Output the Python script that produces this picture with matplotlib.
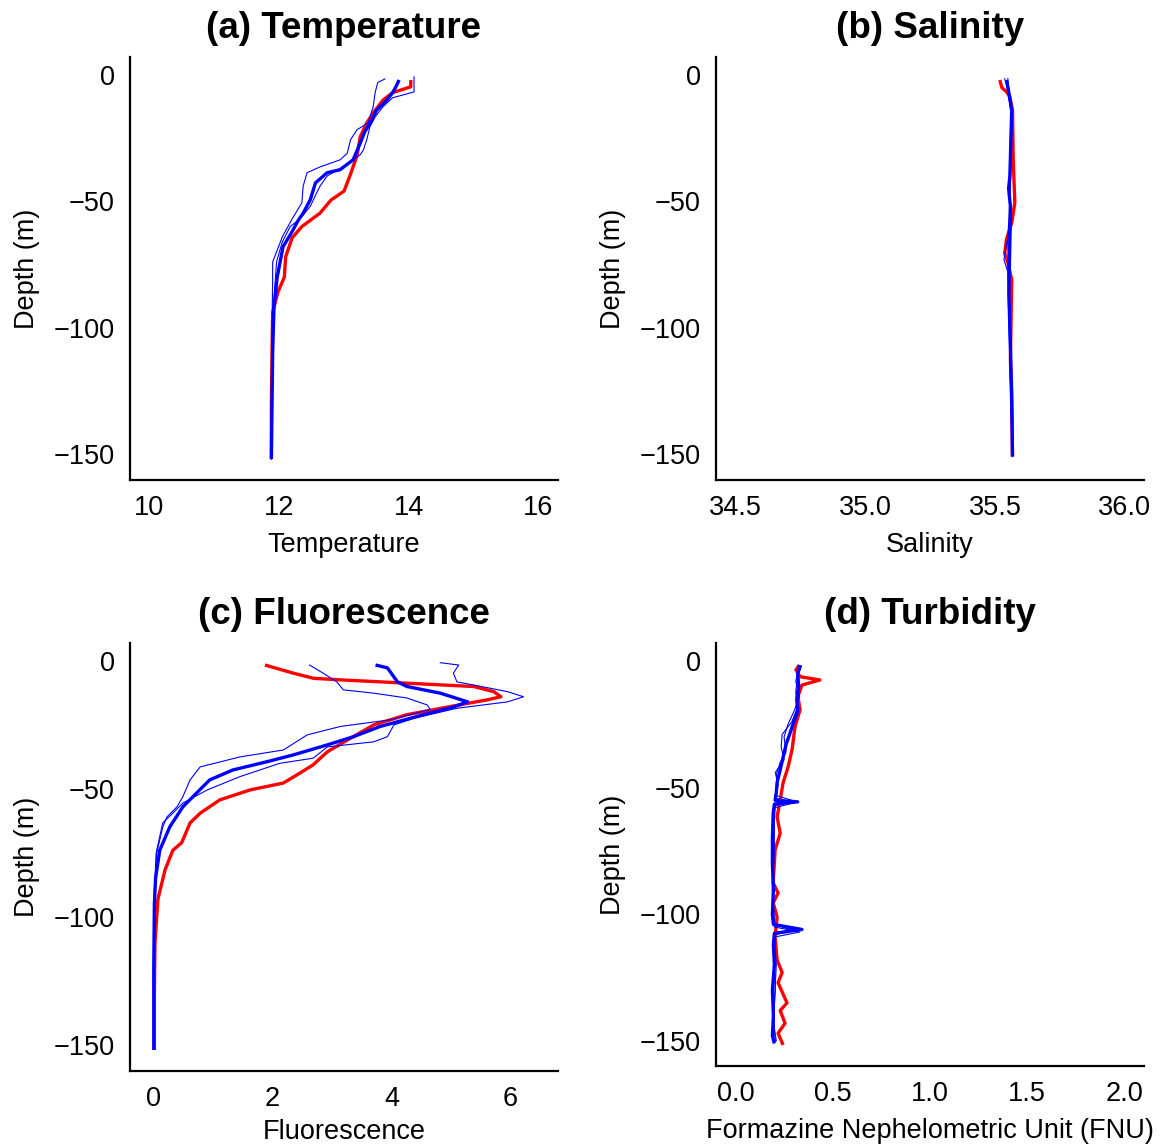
import matplotlib
matplotlib.use("Agg")
import matplotlib.pyplot as plt

plt.rcParams['font.family'] = ['Liberation Sans', 'DejaVu Sans']

# ---------------- Temperature ----------------
temp_red_depth = [-2, -4.7, -7, -10, -14, -19, -24.5, -32, -40, -46, -49.5, -54.7, -60, -64.5, -72, -80, -86, -94, -110, -130, -152]
temp_red = [14.03, 14.03, 13.75, 13.6, 13.48, 13.35, 13.25, 13.2, 13.09, 13.0, 12.8, 12.63, 12.35, 12.2, 12.1, 12.08, 11.98, 11.9, 11.89, 11.88, 11.88]
temp_blue_depth = [-2, -4.7, -7, -10, -14, -18, -22.5, -27, -33.6, -37.5, -38.7, -42.7, -49.4, -54.7, -57.3, -62, -68, -80, -92, -110, -130, -152]
temp_blue = [13.85, 13.8, 13.75, 13.66, 13.5, 13.43, 13.32, 13.25, 13.14, 12.94, 12.74, 12.56, 12.48, 12.37, 12.3, 12.2, 12.06, 11.97, 11.92, 11.9, 11.89, 11.88]
temp_thin1_depth = [-1.6, -3, -7, -12.6, -19, -21.7, -25.7, -31, -33.6, -36.4, -38.7, -44, -50.6, -57, -64, -74, -80, -100, -130, -152]
temp_thin1 = [13.63, 13.52, 13.48, 13.45, 13.37, 13.2, 13.1, 13.05, 12.94, 12.63, 12.43, 12.37, 12.35, 12.2, 12.05, 11.9, 11.9, 11.89, 11.88, 11.88]
temp_thin2_depth = [-0.8, -6.7, -8, -9, -12.6, -16.6, -20.5, -25.7, -29.6, -31.6, -36.4, -40, -44, -46.6, -52, -57, -60, -66, -74, -85, -100, -130, -152]
temp_thin2 = [14.08, 14.08, 13.9, 13.75, 13.6, 13.48, 13.4, 13.35, 13.3, 13.25, 12.98, 12.74, 12.63, 12.58, 12.48, 12.32, 12.17, 12.05, 11.96, 11.93, 11.9, 11.89, 11.88]

# ---------------- Salinity ----------------
sal_red_depth = [-2, -5, -6.7, -8.7, -13.8, -33.6, -45, -50.6, -54, -58.5, -65, -70.5, -74.3, -81, -112.6, -130, -151]
sal_red = [35.519, 35.527, 35.545, 35.558, 35.568, 35.571, 35.575, 35.577, 35.572, 35.565, 35.545, 35.538, 35.55, 35.565, 35.56, 35.565, 35.568]
sal_blue_depth = [-2, -7, -14, -40, -45, -52, -57, -65, -86, -126, -151]
sal_blue = [35.545, 35.554, 35.565, 35.558, 35.553, 35.56, 35.56, 35.558, 35.554, 35.565, 35.568]
sal_thin1_depth = [-1.5, -6, -15, -40, -60, -70, -73, -78, -100, -151]
sal_thin1 = [35.538, 35.55, 35.562, 35.556, 35.558, 35.54, 35.535, 35.55, 35.556, 35.567]
sal_thin2_depth = [-1.5, -8, -15, -45, -65, -90, -120, -151]
sal_thin2 = [35.55, 35.556, 35.566, 35.56, 35.55, 35.552, 35.56, 35.568]

# ---------------- Fluorescence ----------------
fl_red_depth = [-1.6, -4.8, -6.8, -7.4, -8.7, -10, -12, -14, -15.2, -18.5, -21, -25, -31, -35.5, -40.6, -43.8, -47.7, -50.4, -54.3, -59.5, -63.3, -71, -74, -81.6, -93, -110, -130, -152]
fl_red = [1.87, 2.35, 2.69, 3.14, 4.26, 5.38, 5.72, 5.84, 5.61, 4.83, 4.26, 3.7, 3.25, 2.92, 2.68, 2.46, 2.18, 1.62, 1.11, 0.78, 0.61, 0.47, 0.32, 0.19, 0.07, 0.02, 0.01, 0.01]
fl_blue_depth = [-1.6, -2.7, -8.2, -10, -12.6, -16, -18, -21, -25.6, -29.6, -32.8, -36.7, -39.4, -42.6, -46.5, -51.6, -57, -64.8, -74, -85, -95, -120, -152]
fl_blue = [3.73, 3.93, 4.1, 4.26, 4.82, 5.28, 5.04, 4.54, 3.81, 3.36, 2.92, 2.35, 1.9, 1.33, 0.94, 0.72, 0.49, 0.27, 0.1, 0.03, 0.01, 0.0, 0.0]
fl_thin1_depth = [-1.6, -4.8, -8.2, -11.3, -12.6, -14.5, -17.2, -19, -23, -25.6, -28.9, -34.8, -37.5, -41.4, -46.5, -53, -57, -61, -65, -75, -90, -120, -150]
fl_thin1 = [2.62, 2.85, 3.08, 3.19, 3.7, 4.26, 4.6, 4.65, 3.98, 3.14, 2.58, 2.18, 1.45, 0.78, 0.61, 0.49, 0.39, 0.22, 0.15, 0.05, 0.01, 0.0, 0.0]
fl_thin2_depth = [-0.7, -1.6, -4.8, -8.2, -9.4, -12, -14, -16, -18.5, -22.4, -25, -29.6, -31.6, -33.6, -38, -40, -45.2, -50.4, -55.5, -59.5, -63.3, -75, -90, -120, -150]
fl_thin2 = [4.82, 5.13, 5.04, 5.1, 5.38, 5.95, 6.22, 5.95, 5.1, 4.38, 4.04, 3.93, 3.7, 2.92, 2.68, 2.12, 1.45, 0.9, 0.49, 0.32, 0.15, 0.04, 0.01, 0.0, 0.0]

# ---------------- Turbidity ----------------
tu_red_depth = [-1.6, -3.5, -6.2, -7.5, -9.5, -14, -19.3, -26, -35, -42, -48, -55, -61.5, -68, -74.6, -87.6, -91.6, -95.5, -101, -109, -118, -123, -127, -135, -138, -143, -147, -151.6]
tu_red = [0.327, 0.311, 0.332, 0.434, 0.342, 0.321, 0.332, 0.306, 0.291, 0.27, 0.245, 0.23, 0.214, 0.23, 0.204, 0.194, 0.219, 0.194, 0.214, 0.204, 0.214, 0.24, 0.219, 0.265, 0.23, 0.255, 0.219, 0.245]
tu_blue_depth = [-1.6, -5, -10, -15, -20, -24, -28.6, -33, -38, -43, -48, -52, -55, -55.6, -56.5, -60, -70, -80, -90, -100, -104, -106, -107.5, -112, -120, -130, -140, -148, -151]
tu_blue = [0.332, 0.32, 0.325, 0.315, 0.32, 0.3, 0.28, 0.26, 0.245, 0.23, 0.214, 0.21, 0.204, 0.32, 0.2, 0.194, 0.19, 0.19, 0.195, 0.19, 0.195, 0.342, 0.2, 0.195, 0.2, 0.19, 0.195, 0.19, 0.2]
tu_thin1_depth = [-2, -8, -14, -20, -25, -30, -36, -40, -45, -50, -54, -56, -58, -65, -80, -95, -105, -107, -109, -120, -135, -145, -150]
tu_thin1 = [0.33, 0.31, 0.33, 0.30, 0.27, 0.25, 0.26, 0.23, 0.21, 0.215, 0.2, 0.3, 0.2, 0.195, 0.19, 0.195, 0.2, 0.33, 0.2, 0.21, 0.2, 0.2, 0.21]
tu_thin2_depth = [-2, -6, -12, -18, -24, -29, -34, -39, -44, -49, -53, -55.5, -57, -63, -75, -90, -104, -106.5, -108, -118, -130, -142, -150]
tu_thin2 = [0.34, 0.32, 0.31, 0.32, 0.29, 0.24, 0.235, 0.25, 0.205, 0.22, 0.205, 0.31, 0.205, 0.2, 0.2, 0.19, 0.2, 0.3, 0.205, 0.2, 0.205, 0.195, 0.205]

titles = ['(a) Temperature', '(b) Salinity', '(c) Fluorescence', '(d) Turbidity']
xlabels = ['Temperature', 'Salinity', 'Fluorescence', 'Formazine Nephelometric Unit (FNU)']
xticks_list = [[10, 12, 14, 16], [34.5, 35.0, 35.5, 36.0], [0, 2, 4, 6], [0.0, 0.5, 1.0, 1.5, 2.0]]
xtick_labels = [['10', '12', '14', '16'], ['34.5', '35.0', '35.5', '36.0'], ['0', '2', '4', '6'], ['0.0', '0.5', '1.0', '1.5', '2.0']]
yticks = [0, -50, -100, -150]
ytick_labels = ['0', '\u221250', '\u2212100', '\u2212150']

W, H = 1168, 1146
fig = plt.figure(figsize=(W / 100, H / 100), dpi=100)

def box(l, t, r, b):
    return [l / W, 1 - b / H, (r - l) / W, (b - t) / H]

axes_px = [(130, 57, 558, 480), (716, 57, 1144, 480), (130, 643, 558, 1071), (716, 643, 1144, 1066)]
xlims = [(9.7, 16.3), (34.425, 36.075), (-0.4, 6.8), (-0.1, 2.1)]
ylims = [(-160.3, 7.1), (-160.3, 7.1), (-160.2, 7.0), (-159.9, 7.1)]
xlabel_pads = [8, 8, 5, 8]

profiles = [
    (temp_red_depth, temp_red, temp_blue_depth, temp_blue, [(temp_thin1_depth, temp_thin1), (temp_thin2_depth, temp_thin2)]),
    (sal_red_depth, sal_red, sal_blue_depth, sal_blue, [(sal_thin1_depth, sal_thin1), (sal_thin2_depth, sal_thin2)]),
    (fl_red_depth, fl_red, fl_blue_depth, fl_blue, [(fl_thin1_depth, fl_thin1), (fl_thin2_depth, fl_thin2)]),
    (tu_red_depth, tu_red, tu_blue_depth, tu_blue, [(tu_thin1_depth, tu_thin1), (tu_thin2_depth, tu_thin2)]),
]

for i in range(4):
    ax = fig.add_axes(box(*axes_px[i]))
    rd, rv, bd, bv, thins = profiles[i]
    ax.plot(rv, rd, color='#FF0000', lw=2.4, solid_capstyle='butt', solid_joinstyle='round', zorder=2)
    for td, tv in thins:
        ax.plot(tv, td, color='#0000FF', lw=0.8, solid_joinstyle='round', zorder=3)
    ax.plot(bv, bd, color='#0000FF', lw=2.4, solid_capstyle='butt', solid_joinstyle='round', zorder=4)
    ax.set_xlim(*xlims[i])
    ax.set_ylim(*ylims[i])
    ax.set_xticks(xticks_list[i])
    ax.set_xticklabels(xtick_labels[i])
    ax.set_yticks(yticks)
    ax.set_yticklabels(ytick_labels)
    for s in ['top', 'right']:
        ax.spines[s].set_visible(False)
    for s in ['left', 'bottom']:
        ax.spines[s].set_linewidth(1.6)
        ax.spines[s].set_color('black')
    ax.tick_params(axis='both', length=0, labelsize=19.5, colors='black')
    ax.tick_params(axis='x', pad=10.5)
    ax.tick_params(axis='y', pad=11)
    ax.set_xlabel(xlabels[i], fontsize=19.5, labelpad=xlabel_pads[i])
    ax.set_ylabel('Depth (m)', fontsize=19.5, labelpad=10)
    ax.set_title(titles[i], fontsize=26.5, fontweight='bold', pad=14)

fig.savefig('out.png', dpi=100)
